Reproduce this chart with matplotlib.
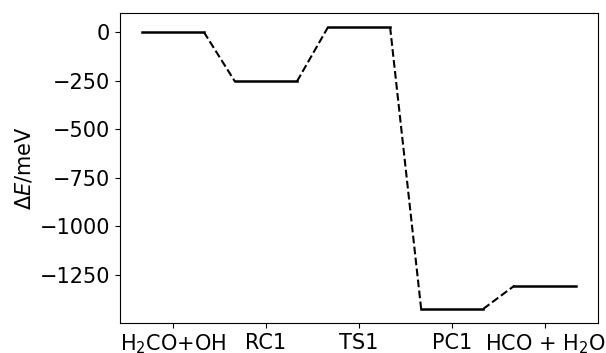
import matplotlib.pyplot as plt
import numpy as np

states = ['H$_2$CO+OH', 'RC1', 'TS1', 'PC1', 'HCO + H$_2$O']
energies = [0, -254, 25, -1424, -1305]

plt.rcParams['font.size'] = 15

fig = plt.figure(figsize=(6.06, 3.53), dpi=100)
ax = fig.add_axes([0.198, 0.085, 0.789, 0.878])

half = 1 / 3
for i, e in enumerate(energies):
    ax.plot([i - half, i + half], [e, e], color='black', lw=1.8)
    if i + 1 < len(energies):
        ax.plot([i + half, i + 1 - half], [e, energies[i + 1]],
                color='black', lw=1.5, ls='--')

ax.set_xticks(np.arange(len(states)))
ax.set_xticklabels(states)
ax.set_yticks([0, -250, -500, -750, -1000, -1250])
ax.set_ylabel(r'$\Delta E$/meV')

fig.savefig('out.png', dpi=100)
